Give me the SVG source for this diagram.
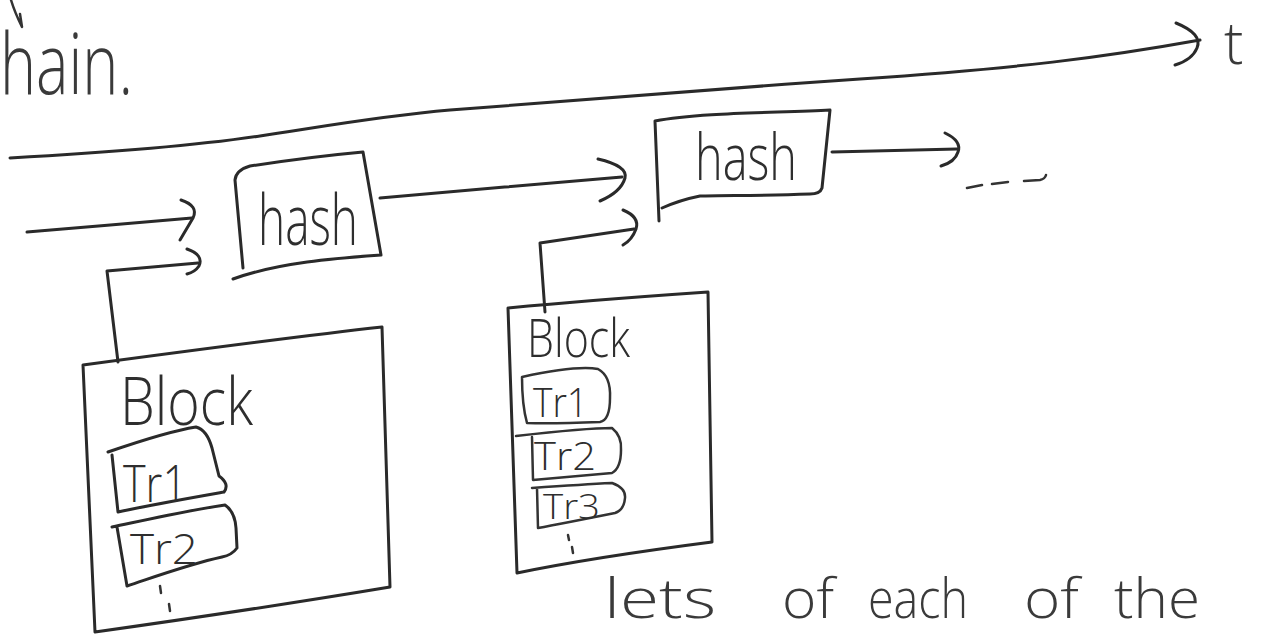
<svg xmlns="http://www.w3.org/2000/svg" width="1270" height="635" viewBox="0 0 1270 635">
  <style>
    .ln { fill: none; stroke: #2a2a2a; stroke-width: 3; stroke-linecap: round; stroke-linejoin: round; }
    .tl { fill: none; stroke: #333; stroke-width: 2.5; stroke-linecap: round; stroke-linejoin: round; }
    .txt { font-family: "Open Sans", "Liberation Sans", sans-serif; font-weight: 300; fill: #2e2e2e; }
    .hand { font-family: "Open Sans", "Liberation Sans", sans-serif; font-weight: 300; fill: #3a3a3a; }
  </style>
  <rect x="0" y="0" width="1270" height="635" fill="#ffffff"/>

  <!-- handwritten text fragments -->
  <g id="notes">
    <path class="tl" d="M11,0 C 14,10 18,19 22,27 L 20,14"/>
    <text class="hand" x="0" y="94" font-size="84" textLength="133" lengthAdjust="spacingAndGlyphs">hain.</text>
    <text class="hand" x="1224" y="64" font-size="58">t</text>
    <text class="hand" x="604" y="618" font-size="56" textLength="112" lengthAdjust="spacingAndGlyphs">lets</text>
    <text class="hand" x="782" y="618" font-size="56" textLength="52" lengthAdjust="spacingAndGlyphs">of</text>
    <text class="hand" x="868" y="618" font-size="56" textLength="100" lengthAdjust="spacingAndGlyphs">each</text>
    <text class="hand" x="1024" y="618" font-size="56" textLength="55" lengthAdjust="spacingAndGlyphs">of</text>
    <text class="hand" x="1114" y="618" font-size="56" textLength="86" lengthAdjust="spacingAndGlyphs">the</text>
  </g>

  <!-- connectors -->
  <g id="connectors">
    <!-- time axis -->
    <path class="ln" d="M10,158 C 120,152 200,145 260,136 S 380,116 450,110 S 700,90 860,79 S 1100,58 1200,40"/>
    <path class="ln" d="M1176,23 Q 1203,34 1197,48 Q 1192,60 1175,65"/>
    <!-- previous -> hash1 -->
    <path class="ln" d="M27,232 C 80,228 140,222 192,218"/>
    <path class="ln" d="M181,200 Q 199,206 193,218 L 180,240"/>
    <!-- block1 -> hash1 -->
    <path class="ln" d="M118,362 L 107,271 L 198,263"/>
    <path class="ln" d="M187,249 Q 204,255 199,266 Q 195,272 187,274"/>
    <!-- hash1 -> hash2 -->
    <path class="ln" d="M380,198 C 450,192 550,183 622,177"/>
    <path class="ln" d="M598,159 Q 628,166 625,178 Q 621,192 600,201"/>
    <!-- block2 -> hash2 -->
    <path class="ln" d="M545,312 L 540,243 L 634,229"/>
    <path class="ln" d="M623,210 Q 640,217 636,229 Q 632,240 623,245"/>
    <!-- hash2 -> ... -->
    <path class="ln" d="M832,152 L 957,149"/>
    <path class="ln" d="M945,133 Q 962,141 958,152 Q 955,162 941,166"/>
    <path class="tl" d="M967,188 L 982,185 M 992,184 L 1008,182 M 1024,181 L 1040,180 Q 1045,179 1046,175"/>
  </g>

  <!-- hash nodes -->
  <g id="hash1">
    <path class="ln" d="M243,268 L 235,180 Q 236,170 250,166 C 290,160 330,155 363,152 L 381,255 C 340,258 280,262 233,279"/>
    <text class="txt" x="258" y="245" font-size="70" textLength="100" lengthAdjust="spacingAndGlyphs">hash</text>
  </g>
  <g id="hash2">
    <path class="ln" d="M659,221 L 655,121 C 700,112 780,113 830,110 L 822,188 Q 820,194 810,194 C 760,196 720,195 700,196 Q 680,200 662,208"/>
    <text class="txt" x="695" y="180" font-size="64" textLength="102" lengthAdjust="spacingAndGlyphs">hash</text>
  </g>

  <!-- block 1 -->
  <g id="block1">
    <path class="ln" d="M83,365 C 180,352 300,336 382,327 L 390,587 C 300,602 180,620 95,632 Z"/>
    <text class="txt" x="120" y="425" font-size="66" textLength="133" lengthAdjust="spacingAndGlyphs">Block</text>
    <g id="block1-tr1">
      <path class="ln" d="M108,452 C 140,441 170,431 196,427 Q 207,430 212,448 L 219,476 Q 230,484 224,492 C 190,498 150,505 118,512 L 112,455"/>
      <text class="txt" x="123" y="502" font-size="52" textLength="64" lengthAdjust="spacingAndGlyphs">Tr1</text>
    </g>
    <g id="block1-tr2">
      <path class="ln" d="M112,527 C 150,519 190,510 225,505 Q 235,512 236,528 L 237,548 Q 232,555 222,557 C 190,564 160,575 127,586 L 117,527"/>
      <text class="txt" x="130" y="564" font-size="42" textLength="68" lengthAdjust="spacingAndGlyphs">Tr2</text>
    </g>
    <path class="tl" d="M160,586 L 161,593 M 169,604 L 170,611"/>
  </g>

  <!-- block 2 -->
  <g id="block2">
    <path class="ln" d="M508,308 C 580,301 650,296 708,292 L 712,542 C 650,550 580,560 517,573 Z"/>
    <text class="txt" x="527" y="357" font-size="54" textLength="103" lengthAdjust="spacingAndGlyphs">Block</text>
    <g id="block2-tr1">
      <path class="tl" d="M522,377 C 545,372 580,366 598,369 Q 611,376 610,398 Q 610,420 600,422 C 575,423 548,424 527,423 Q 522,405 522,377 Z"/>
      <text class="txt" x="533" y="417" font-size="40" textLength="55" lengthAdjust="spacingAndGlyphs">Tr1</text>
    </g>
    <g id="block2-tr2">
      <path class="tl" d="M516,436 C 560,431 590,428 612,428 Q 622,436 621,450 Q 621,468 612,473 C 580,476 555,478 533,480 L 532,437"/>
      <text class="txt" x="534" y="470" font-size="38" textLength="62" lengthAdjust="spacingAndGlyphs">Tr2</text>
    </g>
    <g id="block2-tr3">
      <path class="tl" d="M532,488 C 560,486 590,484 612,483 Q 626,488 625,498 Q 624,510 615,513 C 590,518 560,524 538,528 L 537,488"/>
      <text class="txt" x="543" y="519" font-size="34" textLength="57" lengthAdjust="spacingAndGlyphs">Tr3</text>
    </g>
    <path class="tl" d="M568,535 L 569,540 M 572,547 L 573,553"/>
  </g>
</svg>
